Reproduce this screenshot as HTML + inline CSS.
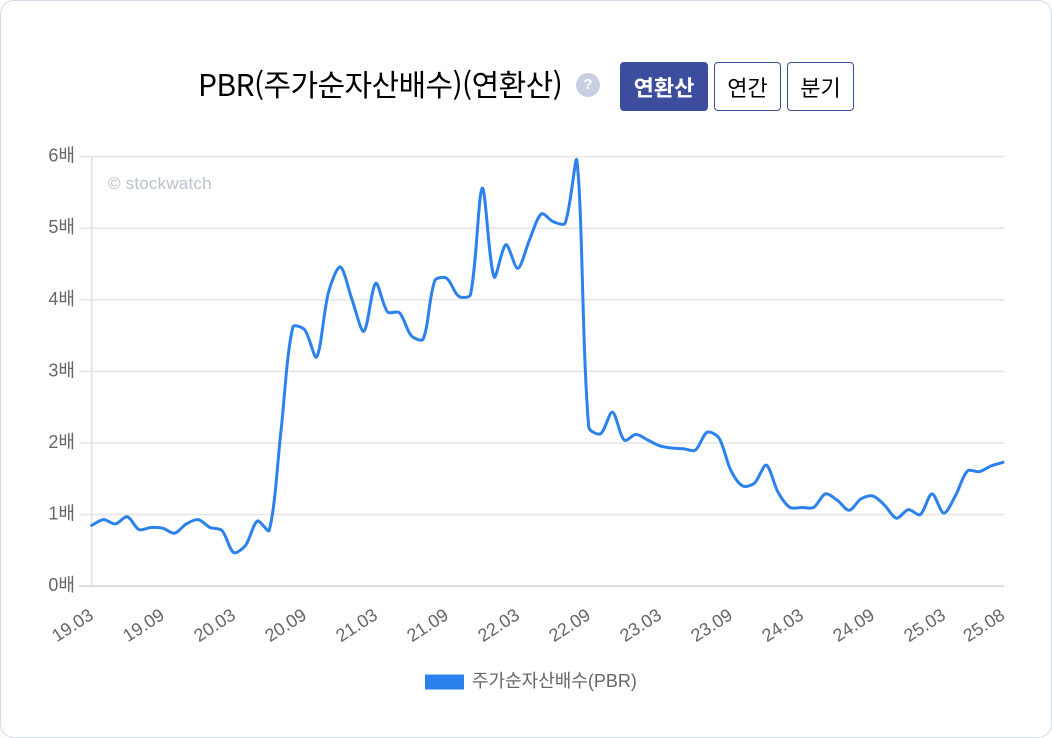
<!DOCTYPE html>
<html lang="ko">
<head>
<meta charset="utf-8">
<title>PBR(주가순자산배수)(연환산)</title>
<style>
html,body{margin:0;padding:0;background:#fff;}
body{width:1052px;height:738px;overflow:hidden;position:relative;}
#card{position:absolute;left:0;top:0;width:1050px;height:736px;border:1px solid #d3dde9;border-radius:14px;background:#fff;}
#title{position:absolute;left:198px;top:62px;font:400 30px/42px "Noto Sans CJK KR","Liberation Sans",sans-serif;letter-spacing:-0.6px;color:#000;white-space:nowrap;}
#help{position:absolute;left:576px;top:73px;width:24px;height:24px;border-radius:50%;background:#c9cfe0;color:#fff;font:700 15px/24px "Liberation Sans",sans-serif;text-align:center;}
.btn{position:absolute;top:62px;height:49px;box-sizing:border-box;border:1px solid #3b4d9c;border-radius:4px;background:#fff;color:#000;font:400 22px/46px "Noto Sans CJK KR",sans-serif;letter-spacing:0;text-align:center;padding:0;}
.btn.on{background:#3b4d9c;color:#fff;font-weight:700;}
svg{position:absolute;left:0;top:0;}
</style>
</head>
<body>
<div id="card"></div>
<div id="title">PBR(주가순자산배수)(연환산)</div>
<div id="help">?</div>
<button class="btn on" style="left:620px;width:88px">연환산</button>
<button class="btn" style="left:714px;width:67px">연간</button>
<button class="btn" style="left:787px;width:67px">분기</button>
<svg id="chart" width="1052" height="738" viewBox="0 0 1052 738"></svg>
<script>
const xTickLabels = ["19.03","19.09","20.03","20.09","21.03","21.09","22.03","22.09","23.03","23.09","24.03","24.09","25.03","25.08"];
const xTickMonths = [0,6,12,18,24,30,36,42,48,54,60,66,72,77];
const yTicks = [0,1,2,3,4,5,6];
const yUnit = "배";
const seriesName = "주가순자산배수(PBR)";
const pbrValues = [
0.85,0.93,0.87,0.97,0.79,0.82,0.81,0.74,0.87,0.93,0.82,0.78,
0.47,0.57,0.91,0.78,2.18,3.62,3.58,3.20,4.10,4.46,4.00,3.56,
4.23,3.83,3.82,3.50,3.45,4.27,4.30,4.05,4.07,5.56,4.32,4.77,
4.44,4.84,5.20,5.09,5.07,5.94,2.22,2.13,2.43,2.04,2.12,2.04,
1.96,1.93,1.92,1.90,2.15,2.07,1.62,1.40,1.44,1.69,1.31,1.10,
1.10,1.10,1.29,1.20,1.06,1.22,1.26,1.13,0.95,1.07,1.00,1.29,
1.02,1.27,1.61,1.60,1.68,1.73];

const NS = "http://www.w3.org/2000/svg";
const svg = document.getElementById("chart");
const plotL = 91.7, plotR = 1003, plotT = 156.6, plotB = 586.2;
const xMax = pbrValues.length - 1;
const yMax = 6;
function xScale(i){ return plotL + (plotR - plotL) * i / xMax; }
function yScale(v){ return plotB - (plotB - plotT) * v / yMax; }
function make(tag, attrs){
  const el = document.createElementNS(NS, tag);
  for (const k in attrs) el.setAttribute(k, attrs[k]);
  svg.appendChild(el);
  return el;
}

yTicks.forEach(function(t){
  const y = yScale(t);
  const grid = make("line", {x1: 79, x2: 1004, y1: y, y2: y, stroke: t === 0 ? "#d4d4d4" : "#e6e6e6", "stroke-width": 1.6});
  
  
  const label = make("text", {x: 75, y: y + 5, "text-anchor": "end", fill: "#666", "font-size": 18, "font-family": '"Liberation Sans","Noto Sans CJK KR",sans-serif'});
  label.textContent = t + yUnit;
  
  
});

const yAxis = make("line", {x1: plotL, x2: plotL, y1: plotT, y2: plotB, stroke: "#e2e2e2", "stroke-width": 1.6});



xTickLabels.forEach(function(t, k){
  const x = xScale(xTickMonths[k]);
  const label = make("text", {x: 0, y: 0, "text-anchor": "end", fill: "#666", "font-size": 18, "font-family": '"Liberation Sans",sans-serif', transform: "translate(" + (x + 3) + ",618) rotate(-33)"});
  label.textContent = t;
  
  
});

const mark = make("text", {x: 108, y: 189, fill: "#b9c1cc", "font-size": 17, "letter-spacing": 0.2, "font-family": '"Liberation Sans",sans-serif'});
mark.textContent = "© stockwatch";



function linePath(values){
  const pts = values.map(function(v, i){ return [xScale(i), yScale(v)]; });
  const tension = 0.3;
  let d = "M" + pts[0][0].toFixed(2) + "," + pts[0][1].toFixed(2);
  const ctrl = pts.map(function(p, i){
    const a = pts[Math.max(i - 1, 0)], b = pts[Math.min(i + 1, pts.length - 1)];
    const d01 = Math.hypot(p[0] - a[0], p[1] - a[1]);
    const d12 = Math.hypot(b[0] - p[0], b[1] - p[1]);
    const sum = d01 + d12 || 1;
    const fa = tension * d01 / sum, fb = tension * d12 / sum;
    return {
      px: p[0] - fa * (b[0] - a[0]), py: p[1] - fa * (b[1] - a[1]),
      nx: p[0] + fb * (b[0] - a[0]), ny: p[1] + fb * (b[1] - a[1])
    };
  });
  for (let i = 1; i < pts.length; i++) {
    d += "C" + ctrl[i-1].nx.toFixed(2) + "," + ctrl[i-1].ny.toFixed(2) + " " +
         ctrl[i].px.toFixed(2) + "," + ctrl[i].py.toFixed(2) + " " +
         pts[i][0].toFixed(2) + "," + pts[i][1].toFixed(2);
  }
  return d;
}
const line = make("path", {d: linePath(pbrValues), fill: "none", stroke: "#2b82ec", "stroke-width": 3, "stroke-linejoin": "round", "stroke-linecap": "round"});



const swatch = make("rect", {x: 425, y: 674.5, width: 39, height: 15, fill: "#2b82ec"});


const legend = make("text", {x: 472, y: 687, fill: "#666", "font-size": 18, "font-family": '"Liberation Sans","Noto Sans CJK KR",sans-serif'});
legend.textContent = seriesName;


</script>
</body>
</html>
